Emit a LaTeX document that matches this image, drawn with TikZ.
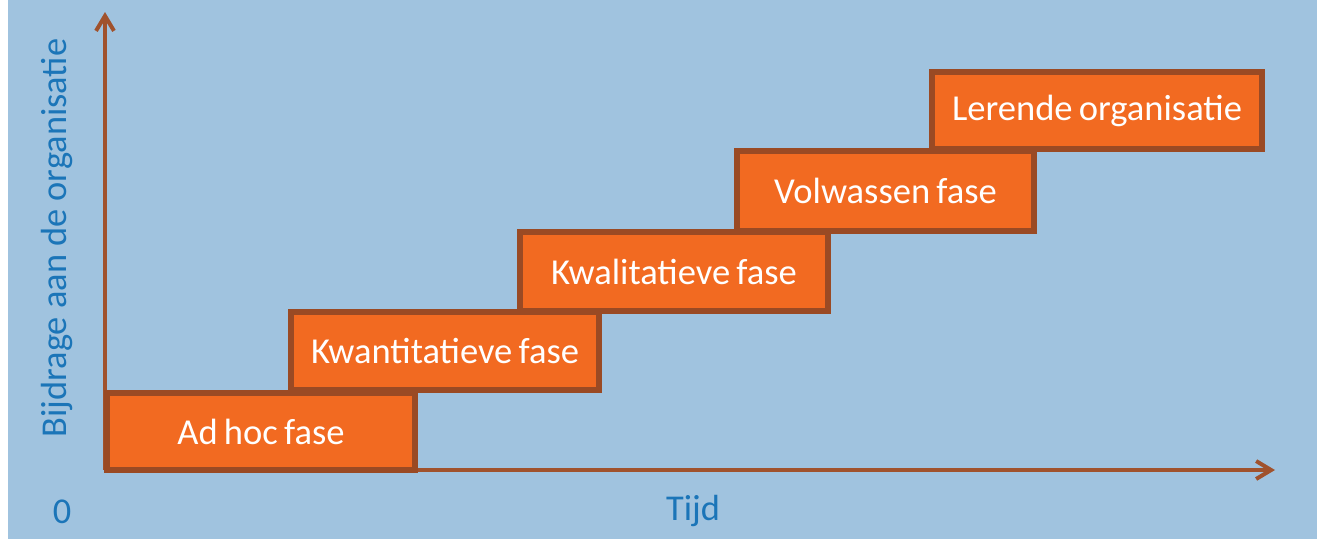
\documentclass[tikz,border=0pt]{standalone}
\usepackage{fontspec}
\setmainfont{Carlito}
\newfontfamily\phasefam[WordSpace=0.75]{Carlito}
\usetikzlibrary{arrows.meta}
\definecolor{bgblue}{HTML}{A0C3DF}
\definecolor{phasefill}{HTML}{F26A21}
\definecolor{phaseedge}{HTML}{9A4A24}
\definecolor{axisbrown}{HTML}{A0522D}
\definecolor{labelblue}{HTML}{1B75B8}
\tikzset{
  phase/.style={draw=phaseedge, fill=phasefill, line width=0.12cm,
    rectangle, inner sep=0pt, text=white,
    font=\phasefam\fontsize{20.8}{25}\selectfont},
  axisline/.style={draw=axisbrown, line width=0.08cm,
    -{Straight Barb[length=0.3cm, width=0.36cm]}},
  axislabel/.style={text=labelblue, inner sep=0pt,
    font=\fontsize{20.7}{25}\selectfont}
}
\begin{document}
\begin{tikzpicture}[x=0.02cm, y=-0.02cm]
  \useasboundingbox (0,0) rectangle (1317,539);
  \fill[white] (0,0) rectangle (1317,539);
  \fill[bgblue] (8,0) rectangle (1317,539);

  % axes
  \coordinate (origin) at (105,470);
  \coordinate (ytip) at (105,12);
  \coordinate (xtip) at (1275,470);
  \draw[axisline] (origin) -- (ytip);
  \draw[axisline] (origin) -- (xtip);

  % phases, rising step by step
  \node[phase, minimum width=6.16cm, minimum height=1.54cm] (adhoc) at (261,431.5) {Ad hoc fase};
  \node[phase, minimum width=6.16cm, minimum height=1.56cm] (kwant) at (445,351) {Kwantitatieve fase};
  \node[phase, minimum width=6.16cm, minimum height=1.58cm] (kwal) at (674,271.5) {Kwalitatieve fase};
  \node[phase, minimum width=5.94cm, minimum height=1.60cm] (volw) at (885.5,191) {Volwassen fase};
  \node[phase, minimum width=6.60cm, minimum height=1.54cm] (lerend) at (1097,110.5) {Lerende organisatie};

  % axis labels
  \node[axislabel, rotate=90] (ylabel) at (57,238) {Bijdrage aan de organisatie};
  \node[axislabel] (zero) at (62,512) {0};
  \node[axislabel] (tijd) at (693,511) {Tijd};
\end{tikzpicture}
\end{document}
